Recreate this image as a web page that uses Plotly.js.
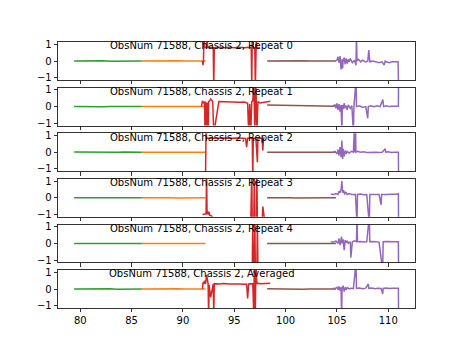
<!DOCTYPE html>
<html><head><meta charset="utf-8">
<script src="https://cdn.plot.ly/plotly-3.0.1.min.js"></script>
<style>body{margin:0;background:#fff}</style></head>
<body><div id="chart" style="width:461px;height:346px"></div>
<script>
const panelTitles = ["ObsNum 71588, Chassis 2, Repeat 0","ObsNum 71588, Chassis 2, Repeat 1","ObsNum 71588, Chassis 2, Repeat 2","ObsNum 71588, Chassis 2, Repeat 3","ObsNum 71588, Chassis 2, Repeat 4","ObsNum 71588, Chassis 2, Averaged"];
const xTicks = [80, 85, 90, 95, 100, 105, 110];
const yTicks = [-1, 0, 1];
const yTickText = ["\u22121", "0", "1"];

const greenX = [79.4, 80.1, 80.8, 81.5, 82.2, 82.9, 83.6, 84.3, 85.0, 85.6, 86.0];
const greenY = [
  [0.0, 0.01, -0.01, 0.0, 0.01, -0.01, 0.0, 0.01, 0.0, -0.01, 0.0],
  [0.0, -0.01, 0.01, 0.0, -0.01, 0.0, 0.01, 0.0, -0.01, 0.0, 0.0],
  [0.01, 0.0, -0.01, 0.01, 0.0, 0.0, -0.01, 0.01, 0.0, 0.01, 0.0],
  [0.0, 0.01, 0.0, -0.01, 0.01, 0.0, 0.0, -0.01, 0.01, 0.0, 0.0],
  [0.0, 0.0, 0.01, -0.01, 0.0, 0.01, 0.0, 0.0, -0.01, 0.01, 0.0],
  [0.0, 0.01, -0.01, 0.0, 0.0, 0.01, -0.01, 0.0, 0.01, 0.0, 0.0]
];
const orangeX = [86.0, 86.7, 87.4, 88.1, 88.8, 89.5, 90.2, 90.9, 91.6, 92.2];
const orangeY = [
  [0.0, 0.01, 0.0, -0.01, 0.0, 0.01, 0.0, -0.01, 0.0, 0.0],
  [0.0, 0.0, 0.01, 0.0, -0.01, 0.0, 0.01, 0.0, 0.0, 0.0],
  [0.0, -0.01, 0.0, 0.01, 0.0, 0.0, -0.01, 0.0, 0.01, 0.0],
  [0.0, 0.01, 0.0, 0.0, 0.01, -0.01, 0.0, 0.01, 0.0, 0.0],
  [0.0, 0.0, -0.01, 0.01, 0.0, 0.0, 0.01, 0.0, -0.01, 0.0],
  [0.0, 0.01, 0.0, -0.01, 0.0, 0.01, 0.0, 0.0, 0.01, 0.0]
];
const brownX = [98.2, 98.9, 99.6, 100.3, 101.0, 101.7, 102.4, 103.1, 103.8, 104.4, 104.9];
const brownY = [
  [0.0, 0.01, 0.0, -0.01, 0.0, 0.01, 0.0, -0.01, 0.0, 0.01, 0.0],
  [0.1, 0.09, 0.08, 0.08, 0.07, 0.06, 0.05, 0.04, 0.03, 0.02, 0.02],
  [0.0, 0.0, 0.01, 0.0, -0.01, 0.0, 0.01, 0.0, 0.0, -0.01, 0.0],
  [0.0, 0.01, 0.0, 0.0, -0.01, 0.0, 0.01, 0.0, -0.01, 0.0, 0.0],
  [0.0, 0.0, 0.01, -0.01, 0.0, 0.01, 0.0, 0.0, 0.01, 0.0, 0.0],
  [0.01, 0.0, 0.0, 0.01, 0.0, -0.01, 0.0, 0.01, 0.0, 0.0, 0.0]
];

const redX0 = [91.9, 91.95, 92.0, 92.05, 92.1, 92.3, 92.35, 92.4, 92.6, 92.95, 93.0, 93.05, 93.5, 94.0, 94.5, 95.0, 95.5, 96.0, 96.5, 96.65, 96.7, 96.75, 96.85, 97.0, 97.05, 97.15, 97.2, 97.3, 97.5];
const redY0 = [0.0, -0.25, 0.0, 1.6, 0.82, 0.8, 1.6, 0.8, 0.82, 0.8, -1.6, 0.8, 0.83, 0.8, 0.82, 0.8, 0.83, 0.8, 0.82, 0.8, -1.6, 1.6, 0.8, 0.8, -1.6, 1.6, 0.8, 0.78, 0.8];
const redX1 = [91.8, 91.9, 92.0, 92.1, 92.15, 92.2, 92.3, 92.35, 92.45, 92.5, 92.6, 92.7, 92.9, 93.0, 93.5, 94.0, 94.5, 95.0, 95.5, 96.0, 96.3, 96.4, 96.5, 96.6, 96.7, 96.8, 96.9, 97.0, 97.05, 97.1, 97.2, 97.3, 97.5, 97.8, 98.1, 98.5];
const redY1 = [0.0, 0.35, 0.2, 0.3, -1.6, 0.3, -1.6, 0.25, -1.6, 0.3, 0.35, 0.45, 0.3, -1.6, 0.3, 0.28, 0.27, 0.28, 0.26, 0.27, 0.2, -1.6, 0.15, -1.6, 0.3, 0.35, 1.6, -1.6, 0.4, 1.6, -1.6, 0.3, 0.22, 0.25, 0.3, 0.32];
const redX2 = [92.2, 92.25, 92.3, 92.4, 92.8, 93.3, 93.8, 94.3, 94.8, 95.3, 95.8, 96.1, 96.2, 96.3, 96.6, 96.75, 96.8, 96.85, 97.1, 97.25, 97.3, 97.5, 97.7, 97.78, 97.85, 97.95];
const redY2 = [-1.6, 1.6, 0.85, 0.84, 0.86, 0.84, 0.85, 0.83, 0.84, 0.85, 0.84, 0.83, 0.3, 0.84, 0.85, 0.84, -1.6, 0.84, 0.85, -0.6, 0.84, 0.83, 0.84, 0.1, 0.84, 0.85];
const redX3 = [91.9, 92.0, 92.2, 92.25, 92.3, 92.35, 92.4, 92.5, 92.55, 92.6, 92.8, 93.2, 94.0, 95.0, 96.0, 96.6, 96.7, 96.75, 96.9, 96.95, 97.0, 97.15, 97.2, 97.25, 97.5, 97.7, 97.78, 97.85, 98.0];
const redY3 = [-0.98, -1.0, -0.95, -1.0, 1.6, -1.0, -0.82, -1.0, -0.85, -1.05, -1.1, -1.6, -1.6, -1.6, -1.6, -1.6, 1.6, -1.6, -1.6, 1.6, -1.6, -1.6, 1.6, -1.6, -1.6, -1.6, -0.52, -1.6, -1.6];
const redX4 = [91.9, 92.5, 93.5, 94.5, 95.5, 96.5, 96.75, 96.8, 96.85, 96.95, 97.0, 97.05, 97.2, 97.25, 97.3, 97.6, 98.0];
const redY4 = [-1.6, -1.6, -1.6, -1.6, -1.6, -1.6, -1.6, 1.6, -1.6, -1.6, 1.6, -1.6, -1.6, 1.6, -1.6, -1.6, -1.6];
const redX5 = [91.9, 91.95, 92.0, 92.1, 92.2, 92.3, 92.45, 92.5, 92.55, 92.7, 92.95, 93.0, 93.05, 93.5, 94.0, 94.5, 95.0, 95.5, 96.0, 96.2, 96.3, 96.4, 96.8, 96.9, 96.95, 97.05, 97.1, 97.2, 97.3, 97.6, 98.0, 98.5];
const redY5 = [0.0, 0.4, 0.3, 0.5, 0.3, 0.85, 0.3, -1.6, 0.25, -0.5, 0.3, -1.6, 0.32, 0.3, 0.33, 0.3, 0.32, 0.3, 0.28, 0.3, -0.56, 0.3, 0.32, -1.6, 1.6, -1.6, 1.6, 0.3, 0.35, 0.32, 0.34, 0.35];

const purpleX0 = [104.8, 105.0, 105.1, 105.2, 105.3, 105.4, 105.5, 105.55, 105.6, 105.7, 105.8, 105.9, 106.0, 106.1, 106.2, 106.3, 106.5, 106.7, 106.85, 106.9, 106.95, 107.1, 107.3, 107.5, 107.8, 108.0, 108.1, 108.15, 108.2, 108.5, 108.8, 109.1, 109.4, 109.6, 109.7, 109.8, 110.1, 110.4, 110.7, 110.95, 111.0];
const purpleY0 = [0.0, 0.05, 0.25, -0.1, 0.3, -0.5, 0.1, -0.45, 0.05, 0.2, -0.2, 0.15, -0.15, 0.1, -0.05, 0.15, -0.1, 0.05, -0.25, 1.6, 0.0, 0.1, -0.05, 0.05, -0.05, 0.0, 0.65, 0.0, -0.05, 0.0, -0.05, -0.1, -0.05, -0.25, 0.0, -0.05, -0.1, -0.05, -0.05, -0.05, -1.6];
const purpleX1 = [104.6, 104.8, 104.9, 105.0, 105.1, 105.2, 105.3, 105.4, 105.48, 105.52, 105.6, 105.7, 105.8, 105.9, 106.0, 106.1, 106.2, 106.3, 106.45, 106.6, 106.65, 106.86, 106.9, 107.2, 107.5, 107.8, 108.0, 108.05, 108.3, 108.6, 108.9, 109.2, 109.47, 109.55, 109.8, 110.1, 110.4, 110.7, 110.98, 111.0];
const purpleY1 = [0.05, 0.1, -0.1, 0.2, -0.2, 0.15, -0.3, 0.1, -1.6, 0.1, -0.15, 0.2, -0.1, 0.05, -0.2, 0.1, 0.0, -0.1, 0.05, -1.6, 0.0, 1.6, 0.0, 0.05, -0.05, 0.0, -0.7, 0.0, 0.05, 0.0, 0.05, 0.0, 0.42, 0.0, 0.05, 0.0, 0.02, 0.03, 0.02, 1.6];
const purpleX2 = [104.6, 104.8, 105.0, 105.1, 105.2, 105.3, 105.4, 105.48, 105.55, 105.6, 105.7, 105.8, 105.9, 106.0, 106.2, 106.4, 106.6, 106.7, 106.75, 106.8, 106.85, 107.0, 107.3, 107.6, 107.9, 108.2, 108.5, 108.8, 109.1, 109.4, 109.7, 109.75, 110.0, 110.3, 110.6, 110.98, 111.0];
const purpleY2 = [0.0, 0.05, -0.1, 0.15, -0.2, 0.3, -0.3, 0.7, -0.4, 0.2, -0.25, 0.1, -0.1, 0.05, -0.05, 0.05, 0.0, 1.6, 0.0, 1.6, 0.0, 0.05, 0.0, 0.02, -0.02, 0.0, 0.02, 0.0, -0.02, 0.0, 0.2, 0.0, 0.02, -0.02, 0.0, 0.0, -1.6];
const purpleX3 = [104.4, 104.7, 104.9, 105.1, 105.2, 105.3, 105.4, 105.48, 105.55, 105.65, 105.75, 105.85, 106.0, 106.2, 106.4, 106.6, 106.8, 106.95, 107.0, 107.3, 107.6, 107.9, 108.15, 108.2, 108.5, 108.8, 109.1, 109.3, 109.35, 109.6, 109.9, 110.2, 110.5, 110.8, 110.98, 111.0];
const purpleY3 = [0.22, 0.2, 0.25, 0.2, 0.4, 0.3, 0.5, 1.0, 0.3, 0.45, 0.2, 0.35, 0.2, 0.25, 0.2, 0.22, 0.2, -1.6, 0.2, 0.22, 0.18, 0.2, -1.6, 0.2, 0.22, 0.2, 0.2, -0.42, 0.2, 0.22, 0.2, 0.22, 0.2, 0.22, 0.25, -1.6];
const purpleX4 = [104.4, 104.7, 104.9, 105.1, 105.2, 105.3, 105.45, 105.5, 105.6, 105.7, 105.8, 105.9, 106.0, 106.1, 106.3, 106.35, 106.5, 106.7, 106.9, 106.95, 107.0, 107.3, 107.6, 107.9, 108.15, 108.2, 108.5, 108.8, 109.1, 109.45, 109.5, 109.8, 110.1, 110.4, 110.7, 110.98, 111.0];
const purpleY4 = [0.1, 0.08, 0.15, 0.0, 0.3, -0.1, 0.4, 0.0, 0.25, -0.4, 0.2, 0.05, 0.15, 0.0, 0.1, -0.86, 0.1, 0.15, 0.1, 1.6, 0.1, 0.12, 0.08, 0.1, 1.6, 0.1, 0.12, 0.1, 0.08, -1.6, 0.1, 0.12, 0.1, 0.08, 0.1, 0.1, -1.6];
const purpleX5 = [104.6, 104.8, 105.0, 105.1, 105.2, 105.3, 105.4, 105.45, 105.5, 105.6, 105.7, 105.8, 105.9, 106.0, 106.2, 106.4, 106.6, 106.85, 106.9, 107.2, 107.5, 107.8, 108.05, 108.1, 108.4, 108.7, 109.0, 109.3, 109.45, 109.5, 109.8, 110.1, 110.4, 110.7, 110.98, 111.0];
const purpleY5 = [0.04, 0.02, 0.1, -0.05, 0.15, -0.1, 0.1, -1.6, 0.05, 0.2, -0.15, 0.1, -0.05, 0.08, 0.0, 0.05, 0.02, 1.6, 0.04, 0.06, 0.02, 0.05, 0.3, 0.04, 0.06, 0.02, 0.05, 0.03, -0.3, 0.04, 0.06, 0.03, 0.05, 0.04, 0.04, -1.6];

const redXs = [redX0, redX1, redX2, redX3, redX4, redX5];
const redYs = [redY0, redY1, redY2, redY3, redY4, redY5];
const purpleXs = [purpleX0, purpleX1, purpleX2, purpleX3, purpleX4, purpleX5];
const purpleYs = [purpleY0, purpleY1, purpleY2, purpleY3, purpleY4, purpleY5];

const colors = {green: "#2ca02c", orange: "#ff7f0e", red: "#d62728", brown: "#8c564b", purple: "#9467bd"};
const font = {family: "DejaVu Sans, sans-serif", size: 10, color: "#000"};

const W = 461, H = 346, mL = 58, mR = 46, mT = 42, mB = 38;
const plotH = H - mT - mB;
const panelH = plotH / 7 * 1.0; // 6 panels + 5 gaps of 0.2
const gap = panelH * 0.2;

const traces = [];
const layout = {
  width: W, height: H, margin: {l: mL, r: mR, t: mT, b: mB, pad: 0},
  paper_bgcolor: "#fff", plot_bgcolor: "#fff", showlegend: false, font: font,
  annotations: []
};

for (let i = 0; i < 6; i++) {
  const xa = "x" + (i === 0 ? "" : i + 1);
  const ya = "y" + (i === 0 ? "" : i + 1);
  const series = [
    [greenX, greenY[i], colors.green],
    [orangeX, orangeY[i], colors.orange],
    [redXs[i], redYs[i], colors.red],
    [brownX, brownY[i], colors.brown],
    [purpleXs[i], purpleYs[i], colors.purple]
  ];
  series.forEach(s => traces.push({x: s[0], y: s[1], xaxis: xa, yaxis: ya, type: "scatter", mode: "lines",
    line: {color: s[2], width: 1.5}, hoverinfo: "skip"}));
  const topPx = i * (panelH + gap);
  const top = 1 - topPx / plotH;
  const bot = 1 - (topPx + panelH) / plotH;
  layout["xaxis" + (i === 0 ? "" : i + 1)] = {
    domain: [0, 1], anchor: ya, range: [77.83, 112.6], tickvals: xTicks, showticklabels: i === 5,
    ticks: "outside", ticklen: 3.5, tickwidth: 0.8, tickcolor: "#000", showline: true, mirror: true,
    linecolor: "#000", linewidth: 0.8, showgrid: false, zeroline: false, tickfont: font,
    matches: i === 0 ? undefined : "x"
  };
  layout["yaxis" + (i === 0 ? "" : i + 1)] = {
    domain: [bot, top], anchor: xa, range: [-1.14, 1.14], tickvals: yTicks, ticktext: yTickText,
    ticks: "outside", ticklen: 3.5, tickwidth: 0.8, tickcolor: "#000", showline: true, mirror: true,
    linecolor: "#000", linewidth: 0.8, showgrid: false, zeroline: false, tickfont: font
  };
  layout.annotations.push({
    text: panelTitles[i], xref: "paper", yref: "paper", x: 0.403, xanchor: "center",
    y: top - 3.8 / plotH, yanchor: "middle", showarrow: false, font: font
  });
}

Plotly.newPlot("chart", traces, layout, {staticPlot: true, displayModeBar: false});
</script>
</body></html>
